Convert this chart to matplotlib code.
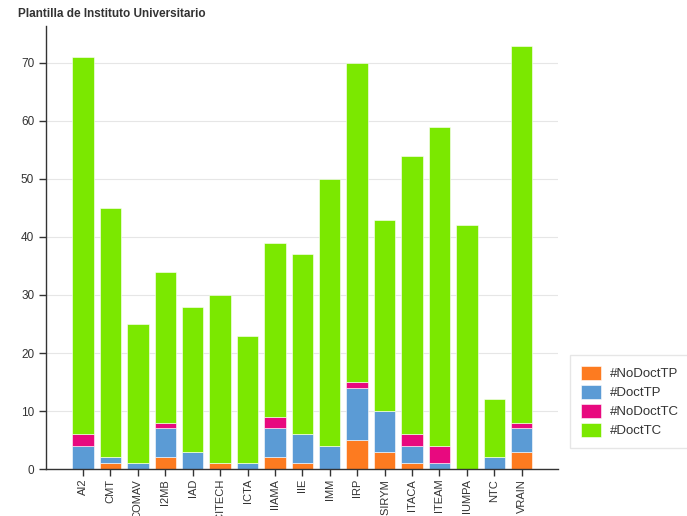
"""Plantilla de Instituto Universitario - stacked bars."""
import matplotlib
matplotlib.use("Agg")
import matplotlib.pyplot as plt
import numpy as np

institutes = ["AI2", "CMT", "COMAV", "I2MB", "IAD", "ICITECH", "ICTA", "IIAMA",
              "IIE", "IMM", "IRP", "ISIRYM", "ITACA", "ITEAM", "IUMPA", "NTC",
              "VRAIN"]
no_doct_tp = [0, 1, 0, 2, 0, 1, 0, 2, 1, 0, 5, 3, 1, 0, 0, 0, 3]
doct_tp = [4, 1, 1, 5, 3, 0, 1, 5, 5, 4, 9, 7, 3, 1, 0, 2, 4]
no_doct_tc = [2, 0, 0, 1, 0, 0, 0, 2, 0, 0, 1, 0, 2, 3, 0, 0, 1]
doct_tc = [65, 43, 24, 26, 25, 29, 22, 30, 31, 46, 55, 33, 48, 55, 42, 10, 65]

series = [("#NoDoctTP", no_doct_tp, "#fd7b20"),
          ("#DoctTP", doct_tp, "#5b9bd5"),
          ("#NoDoctTC", no_doct_tc, "#e8097f"),
          ("#DoctTC", doct_tc, "#7be800")]

plt.rcParams["font.family"] = ["Liberation Sans", "DejaVu Sans"]

fig = plt.figure(figsize=(6.87, 5.16), dpi=100)
ax = fig.add_axes([0.067, 0.091, 0.745, 0.859])

x = np.arange(len(institutes))
bottom = np.zeros(len(institutes))
for name, vals, color in series:
    vals = np.array(vals, dtype=float)
    ax.bar(x, vals, 0.78, bottom=bottom, color=color, label=name,
           edgecolor="white", linewidth=0.4, zorder=2)
    bottom += vals

ax.set_xlim(-1.35, len(institutes) - 1 + 1.32)
ax.set_ylim(0, 76.4)
ax.set_yticks(range(0, 80, 10))
ax.set_xticks(x)
ax.set_xticklabels(institutes, rotation=90, va="top")
ax.tick_params(axis="both", color="#333333", labelcolor="#333333",
               length=5, width=1)
ax.tick_params(axis="y", labelsize=8.5)
ax.tick_params(axis="x", labelsize=8, pad=2)
ax.grid(axis="y", color="#e6e6e6", lw=0.8, zorder=0)
for side in ("top", "right"):
    ax.spines[side].set_visible(False)
for side in ("left", "bottom"):
    ax.spines[side].set_color("#333333")
    ax.spines[side].set_linewidth(1)

fig.text(18 / 687, 1 - 14 / 516, "Plantilla de Instituto Universitario",
         fontsize=8.5, fontweight="bold", color="#333333", va="center")

leg = ax.legend(loc="upper left", bbox_to_anchor=(570 / 687, 1 - 355 / 516),
                bbox_transform=fig.transFigure, fontsize=9.5, frameon=True,
                fancybox=False, edgecolor="#e0e0e0", handlelength=1.55,
                handleheight=1.25, handletextpad=0.7, borderpad=0.8,
                labelspacing=0.35, borderaxespad=0)
for t in leg.get_texts():
    t.set_color("#333333")

fig.savefig("out.png", dpi=100)
